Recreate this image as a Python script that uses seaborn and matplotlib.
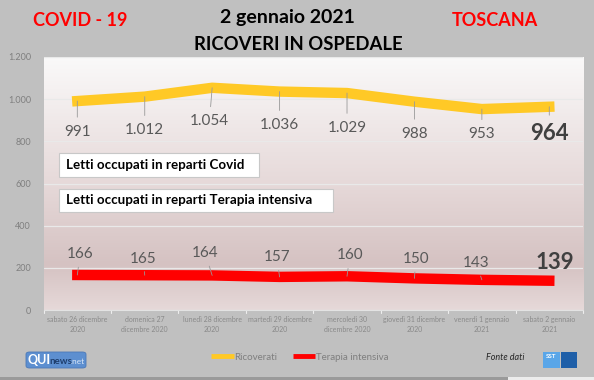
import numpy as np
import pandas as pd
import seaborn as sns
import matplotlib.pyplot as plt
from matplotlib.colors import LinearSegmentedColormap
from matplotlib.patches import Rectangle, FancyBboxPatch
from matplotlib.lines import Line2D
from matplotlib.ticker import FuncFormatter

# Data
days = ["sabato 26 dicembre\n2020", "domenica 27\ndicembre 2020", "lunedì 28 dicembre\n2020",
        "martedì 29 dicembre\n2020", "mercoledì 30\ndicembre 2020", "giovedì 31 dicembre\n2020",
        "venerdì 1 gennaio\n2021", "sabato 2 gennaio\n2021"]
ricoverati = [991, 1012, 1054, 1036, 1029, 988, 953, 964]
terapia = [166, 165, 164, 157, 160, 150, 143, 139]

# label offsets (points) from the data point
ric_off = [(0, -22), (0, -24), (-2, -24), (0, -24), (0, -25), (0, -23), (0, -18), (0, -19)]
ter_off = [(2, 15), (-1, 12), (-5, 16), (-2, 14), (2, 15), (1, 14), (-4, 12), (4, 13)]

YELLOW = "#ffc926"
RED = "#ff0000"
GREY_TXT = "#595959"

sns.set_style("white")
plt.rcParams["font.family"] = ["Lato", "DejaVu Sans"]

df = pd.DataFrame({"giorno": range(len(days)), "ricoverati": ricoverati, "terapia": terapia})

fig = plt.figure(figsize=(5.94, 3.8), dpi=100)
fig.patch.set_facecolor("#c0c0c0")
ax = fig.add_axes([43.6 / 594, 1 - 310 / 380, (583 - 43.6) / 594, (310 - 57) / 380])

# gradient plot background
cmap = LinearSegmentedColormap.from_list(
    "bg", [(0, "#e6d9d9"), (0.18, "#d5c2c2"), (0.5, "#e6d9d9"), (1, "#faf9f9")])
grad = np.linspace(0, 1, 256).reshape(-1, 1)
ax.imshow(grad, aspect="auto", cmap=cmap, origin="lower", extent=[0, 1, 0, 1],
          transform=ax.transAxes, zorder=0)

sns.lineplot(data=df, x="giorno", y="ricoverati", ax=ax, color=YELLOW, lw=7.5,
             solid_capstyle="projecting", zorder=3)
sns.lineplot(data=df, x="giorno", y="terapia", ax=ax, color=RED, lw=7.5,
             solid_capstyle="projecting", zorder=3)

ax.set_xlim(-0.5, len(days) - 0.5)
ax.set_ylim(0, 1200)
ax.set_yticks(range(0, 1201, 200))
ax.yaxis.set_major_formatter(FuncFormatter(lambda v, p: f"{int(v):,}".replace(",", ".")))
ax.set_xticks(range(len(days)))
ax.set_xticklabels(days, fontsize=5.0, color="#8a8a8a", linespacing=1.5)
ax.tick_params(axis="y", labelsize=6.5, colors="#7f7f7f", length=0, pad=9)
ax.tick_params(axis="x", length=0, pad=4)
ax.set_xlabel("")
ax.set_ylabel("")
ax.grid(axis="y", color="#e9e9e9", lw=0.9, zorder=1)
for s in ["top", "right", "left"]:
    ax.spines[s].set_visible(False)
ax.spines["bottom"].set_color("#e3e3e3")
for b in np.arange(-0.5, len(days), 1.0):
    ax.plot([b, b], [0, -12], color="#eeeeee", lw=0.8, clip_on=False, zorder=2)

# data labels
for i, v in enumerate(ricoverati):
    last = i == len(ricoverati) - 1
    txt = f"{v:,}".replace(",", ".")
    ax.annotate(txt, (i, v), xytext=ric_off[i], textcoords="offset points",
                ha="center", va="center", fontsize=16 if last else 11,
                fontweight="bold" if last else "normal", color="#404040" if last else GREY_TXT,
                arrowprops=dict(arrowstyle="-", color="#999999", lw=0.6, shrinkA=3, shrinkB=0),
                zorder=4)
for i, v in enumerate(terapia):
    last = i == len(terapia) - 1
    ax.annotate(str(v), (i, v), xytext=ter_off[i], textcoords="offset points",
                ha="center", va="center", fontsize=16 if last else 11,
                fontweight="bold" if last else "normal", color="#404040" if last else GREY_TXT,
                arrowprops=None if last else dict(arrowstyle="-", color="#999999", lw=0.6,
                                                  shrinkA=2, shrinkB=0),
                zorder=4)

# text boxes inside the plot
def fig_box(x0, y0, x1, y1, text):
    fig.add_artist(Rectangle((x0 / 594, 1 - y1 / 380), (x1 - x0) / 594, (y1 - y0) / 380,
                             transform=fig.transFigure, facecolor="white",
                             edgecolor="#c8c8c8", lw=0.8, zorder=5))
    fig.text((x0 + 7) / 594, 1 - (y0 + y1) / 2 / 380, text, fontsize=9.6, fontweight="bold",
             color="black", va="center", ha="left", zorder=6)

fig_box(59, 153, 259, 177, "Letti occupati in reparti Covid")
fig_box(59, 189, 333, 212, "Letti occupati in reparti Terapia intensiva")

# titles
fig.text(80 / 594, 1 - 21 / 380, "COVID - 19", color="#ff0000", fontsize=13,
         fontweight="bold", ha="center", va="center")
fig.text(495 / 594, 1 - 20 / 380, "TOSCANA", color="#ff0000", fontsize=13,
         fontweight="bold", ha="center", va="center")
fig.text(287 / 594, 1 - 18 / 380, "2 gennaio 2021", color="black", fontsize=14,
         fontweight="bold", ha="center", va="center")
fig.text(298 / 594, 1 - 44 / 380, "RICOVERI IN OSPEDALE", color="black", fontsize=13.3,
         fontweight="bold", ha="center", va="center")

# legend
handles = [Line2D([], [], color=YELLOW, lw=3.5, solid_capstyle="butt"),
           Line2D([], [], color=RED, lw=3.5, solid_capstyle="butt")]
fig.legend(handles, ["Ricoverati", "Terapia intensiva"], loc="center",
           bbox_to_anchor=(300 / 594, 1 - 357 / 380), ncol=2, frameon=False,
           fontsize=7, handlelength=2.3, handletextpad=0.1, columnspacing=1.6,
           labelcolor="#7f7f7f")

# source and logos
fig.text(505 / 594, 1 - 357 / 380, "Fonte dati", fontsize=6.5, style="italic",
         color="#262626", ha="center", va="center")
fig.add_artist(FancyBboxPatch((26 / 594, 1 - 368 / 380), 60 / 594, 16 / 380,
                              boxstyle="round,pad=0,rounding_size=0.006",
                              transform=fig.transFigure, facecolor="#5d8fd0",
                              edgecolor="#4a78b8", lw=0.6))
fig.text(28 / 594, 1 - 360 / 380, "QUI", fontsize=9, fontweight="bold", color="white",
         ha="left", va="center")
fig.text(49 / 594, 1 - 361 / 380, "news", fontsize=7, fontweight="bold", color="#1f3f6e",
         ha="left", va="center")
fig.text(71 / 594, 1 - 361 / 380, ".net", fontsize=6, color="#d8e6f7",
         ha="left", va="center")
fig.add_artist(Rectangle((543 / 594, 1 - 368 / 380), 17 / 594, 16 / 380,
                         transform=fig.transFigure, facecolor="#5aa6e8", lw=0))
fig.add_artist(Rectangle((561 / 594, 1 - 368 / 380), 16 / 594, 16 / 380,
                         transform=fig.transFigure, facecolor="#1f5fa8", lw=0))
fig.text(551.5 / 594, 1 - 356 / 380, "SST", fontsize=4.5, fontweight="bold", color="white",
         ha="center", va="center")

# bottom strip
fig.add_artist(Rectangle((0, 0), 508 / 594, 3 / 380, transform=fig.transFigure,
                         facecolor="#9a9a9a", lw=0))
fig.add_artist(Rectangle((508 / 594, 0), 86 / 594, 3 / 380, transform=fig.transFigure,
                         facecolor="#ececec", lw=0))

fig.savefig("out.png", dpi=100, facecolor=fig.get_facecolor())
